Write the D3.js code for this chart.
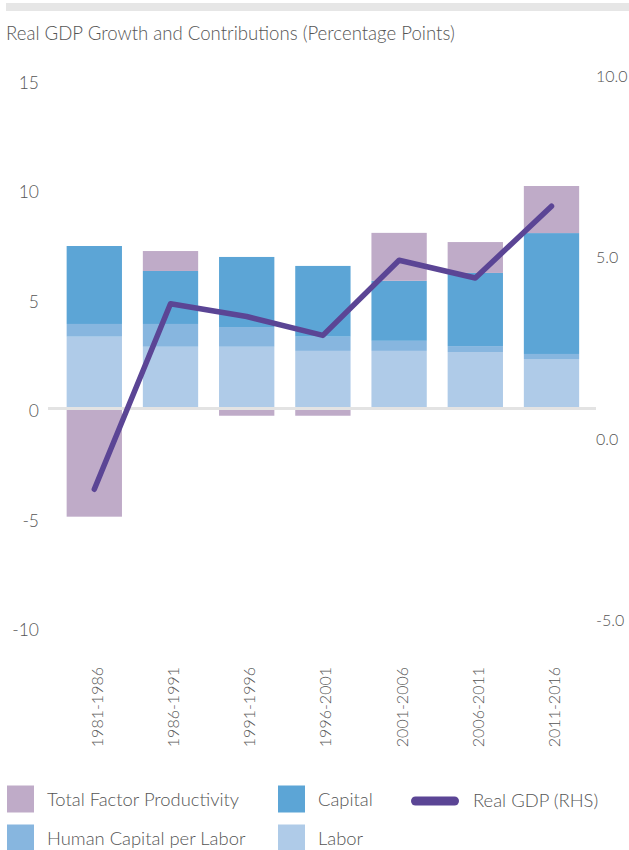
<!DOCTYPE html>
<html>
<head>
<meta charset="utf-8">
<script src="https://cdn.jsdelivr.net/npm/d3@7"></script>
<style>
  html, body { margin: 0; padding: 0; background: #fff; }
  svg { display: block; font-family: Lato, "Open Sans", sans-serif; }
</style>
</head>
<body>
<svg id="chart" width="629" height="850"></svg>
<script>
const title = "Real GDP Growth and Contributions (Percentage Points)";
const periods = ["1981-1986", "1986-1991", "1991-1996", "1996-2001", "2001-2006", "2006-2011", "2011-2016"];
const labor = [3.28, 2.82, 2.82, 2.63, 2.63, 2.58, 2.26];
const humanCapital = [0.58, 1.04, 0.90, 0.65, 0.46, 0.27, 0.23];
const capital = [3.56, 2.42, 3.20, 3.23, 2.74, 3.34, 5.52];
const tfp = [-4.94, 0.91, -0.33, -0.33, 2.19, 1.41, 2.15];
const realGDP = [-1.46, 3.65, 3.30, 2.78, 4.85, 4.36, 6.34];
const leftTicks = [-10, -5, 0, 5, 10, 15];
const rightTicks = [-5, 0, 5, 10];

const seriesNames = ["Labor", "Human Capital per Labor", "Capital", "Total Factor Productivity"];
const seriesColors = {
  "Labor": "#afcbe8",
  "Human Capital per Labor": "#87b6df",
  "Capital": "#5ca5d6",
  "Total Factor Productivity": "#bfabc8"
};
const lineColor = "#5b4595";
const textColor = "#555555";

const rows = periods.map((p, i) => ({
  period: p,
  "Labor": labor[i],
  "Human Capital per Labor": humanCapital[i],
  "Capital": capital[i],
  "Total Factor Productivity": tfp[i],
  gdp: realGDP[i]
}));

const svg = d3.select("#chart");

// top rule
svg.append("rect").attr("x", 6).attr("y", 3).attr("width", 623).attr("height", 8).attr("fill", "#e6e6e6");

svg.append("text")
  .attr("x", 6).attr("y", 33)
  .attr("dominant-baseline", "central")
  .attr("font-size", 18.6).attr("font-weight", 300)
  .attr("fill", textColor)
  .text(title);

const x = d3.scaleBand().domain(periods).range([56.2, 589.6]).paddingInner(0.274).paddingOuter(0.137);
const yL = d3.scaleLinear().domain([-10, 15]).range([627.5, 80]);
const yR = d3.scaleLinear().domain([-5, 10]).range([617.8, 73.3]);

const stack = d3.stack().keys(seriesNames).offset(d3.stackOffsetDiverging);
const stacked = stack(rows);

svg.append("g").selectAll("g").data(stacked).join("g")
  .attr("fill", d => seriesColors[d.key])
  .selectAll("rect").data(d => d).join("rect")
  .attr("x", d => x(d.data.period))
  .attr("width", x.bandwidth())
  .attr("y", d => yL(Math.max(d[0], d[1])))
  .attr("height", d => Math.abs(yL(d[0]) - yL(d[1])));

// zero line
svg.append("line")
  .attr("x1", 48).attr("x2", 596)
  .attr("y1", yL(0)).attr("y2", yL(0))
  .attr("stroke", "#e3e3e3").attr("stroke-width", 3);

// left axis labels
svg.append("g").selectAll("text").data(leftTicks).join("text")
  .attr("x", 39).attr("y", d => yL(d) + 2)
  .attr("text-anchor", "end").attr("dominant-baseline", "central")
  .attr("font-size", 17.5).attr("font-weight", 300).attr("fill", textColor)
  .text(d => String(d));

// right axis labels
svg.append("g").selectAll("text").data(rightTicks).join("text")
  .attr("x", 596).attr("y", d => yR(d) + 2)
  .attr("text-anchor", "start").attr("dominant-baseline", "central")
  .attr("font-size", 16).attr("font-weight", 300).attr("fill", textColor)
  .text(d => d.toFixed(1));

// x labels
svg.append("g").selectAll("text").data(periods).join("text")
  .attr("transform", d => `translate(${x(d) + x.bandwidth() / 2 + 2},667) rotate(-90)`)
  .attr("text-anchor", "end").attr("dominant-baseline", "central")
  .attr("font-size", 16).attr("font-weight", 300).attr("fill", textColor)
  .text(d => d);

// GDP line
const line = d3.line()
  .x(d => x(d.period) + x.bandwidth() / 2)
  .y(d => yR(d.gdp));
svg.append("path").datum(rows)
  .attr("d", line)
  .attr("fill", "none").attr("stroke", lineColor)
  .attr("stroke-width", 5.5).attr("stroke-linejoin", "round").attr("stroke-linecap", "round");

// legend
const legendItems = [
  { name: "Total Factor Productivity", type: "rect", x: 7, y: 799 },
  { name: "Capital", type: "rect", x: 278, y: 799 },
  { name: "Real GDP (RHS)", type: "line", x: 411, y: 801 },
  { name: "Human Capital per Labor", type: "rect", x: 7, y: 838 },
  { name: "Labor", type: "rect", x: 278, y: 838 }
];
const lg = svg.append("g");
legendItems.forEach(it => {
  if (it.type === "rect") {
    lg.append("rect").attr("x", it.x).attr("y", it.y - 13.5).attr("width", 27).attr("height", 27)
      .attr("fill", seriesColors[it.name]);
    lg.append("text").attr("x", it.x + 40).attr("y", it.y)
      .attr("dominant-baseline", "central").attr("font-size", 18.4).attr("font-weight", 300)
      .attr("fill", textColor).text(it.name);
  } else {
    lg.append("line").attr("x1", it.x + 4.5).attr("x2", it.x + 43.5)
      .attr("y1", it.y).attr("y2", it.y)
      .attr("stroke", lineColor).attr("stroke-width", 9).attr("stroke-linecap", "round");
    lg.append("text").attr("x", it.x + 62).attr("y", it.y - 1)
      .attr("dominant-baseline", "central").attr("font-size", 18.4).attr("font-weight", 300)
      .attr("fill", textColor).text(it.name);
  }
});
</script>
</body>
</html>
